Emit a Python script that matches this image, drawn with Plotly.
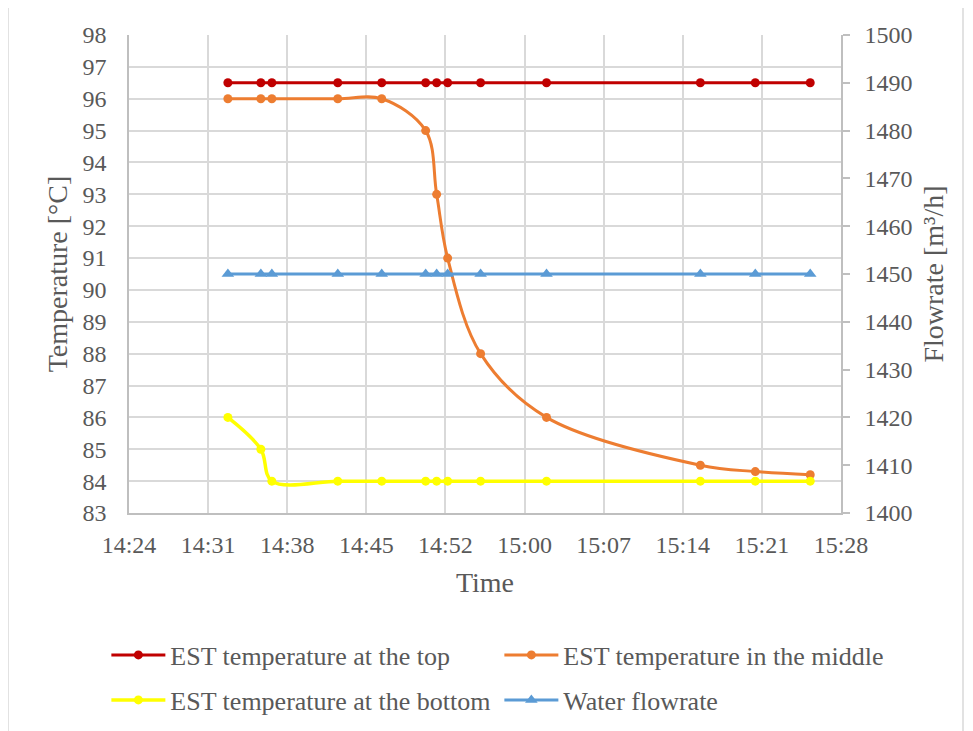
import plotly.graph_objects as go
from datetime import datetime, timedelta

DAY = "2023-01-01 "
times = ["14:33", "14:36", "14:37", "14:43", "14:47", "14:51", "14:52",
         "14:53", "14:56", "15:02", "15:16", "15:21", "15:26"]
temp_top = [96.5, 96.5, 96.5, 96.5, 96.5, 96.5, 96.5,
            96.5, 96.5, 96.5, 96.5, 96.5, 96.5]
temp_middle = [96, 96, 96, 96, 96, 95, 93, 91, 88, 86, 84.5, 84.3, 84.2]
temp_bottom = [86, 85, 84, 84, 84, 84, 84, 84, 84, 84, 84, 84, 84]
water_flow = [1450, 1450, 1450, 1450, 1450, 1450, 1450,
              1450, 1450, 1450, 1450, 1450, 1450]
x_tick_labels = ["14:24", "14:31", "14:38", "14:45", "14:52",
                 "15:00", "15:07", "15:14", "15:21", "15:28"]

x = [DAY + t for t in times]
start = datetime(2023, 1, 1, 14, 24, 0)
tick_vals = [(start + timedelta(seconds=432 * k)).strftime("%Y-%m-%d %H:%M:%S")
             for k in range(len(x_tick_labels))]
x_range = [tick_vals[0], (start + timedelta(seconds=432 * 9)).strftime("%Y-%m-%d %H:%M:%S")]

FONT = "Liberation Serif"
TXT = "#595959"
GRID = "#d9d9d9"
AXL = "#bfbfbf"

# page body has an 8px default margin: figure is 8px smaller and offset
W, H = 965, 723
L, T = 121, 27
PW, PH = 712, 478
R = W - L - PW
B = H - T - PH

fig = go.Figure()
fig.add_trace(go.Scatter(x=x, y=temp_top, name="EST temperature at the top",
                         mode="lines+markers", line=dict(color="#C00000", width=3, shape="spline"),
                         marker=dict(size=9, symbol="circle"), legend="legend"))
fig.add_trace(go.Scatter(x=x, y=temp_middle, name="EST temperature in the middle",
                         mode="lines+markers", line=dict(color="#ED7D31", width=3, shape="spline", smoothing=1),
                         marker=dict(size=9, symbol="circle"), legend="legend"))
fig.add_trace(go.Scatter(x=x, y=temp_bottom, name="EST temperature at the bottom",
                         mode="lines+markers", line=dict(color="#FFFF00", width=3.5, shape="spline", smoothing=1),
                         marker=dict(size=9, symbol="circle"), legend="legend2"))
fig.add_trace(go.Scatter(x=x, y=water_flow, name="Water flowrate", yaxis="y2",
                         mode="lines+markers", line=dict(color="#5B9BD5", width=3),
                         marker=dict(size=11, symbol="triangle-up"), legend="legend2"))

leg_common = dict(orientation="h", xanchor="left", yanchor="middle", x=-0.036,
                  borderwidth=3, bordercolor="rgba(0,0,0,0)", itemwidth=54,
                  entrywidth=324, entrywidthmode="pixels",
                  font=dict(family=FONT, size=26, color=TXT), bgcolor="rgba(0,0,0,0)")

fig.update_layout(
    width=W, height=H, autosize=False,
    margin=dict(l=L, r=R, t=T, b=B, autoexpand=False),
    paper_bgcolor="white", plot_bgcolor="white",
    font=dict(family=FONT, color=TXT),
    xaxis=dict(type="date", range=x_range, tickvals=tick_vals, ticktext=x_tick_labels,
               showgrid=True, gridcolor=GRID, gridwidth=1.5, showline=True, linecolor=AXL, linewidth=1.5,
               zeroline=False, ticks="", tickfont=dict(family=FONT, size=24, color=TXT),
               ticklabelstandoff=9, automargin=False,
               title=dict(text="Time", font=dict(family=FONT, size=28, color=TXT), standoff=16)),
    yaxis=dict(range=[83, 98], dtick=1, tick0=83, showgrid=True, gridcolor=GRID, gridwidth=1.5,
               showline=True, linecolor=AXL, linewidth=1.5, zeroline=False, ticks="",
               tickfont=dict(family=FONT, size=24, color=TXT), ticklabelstandoff=16, automargin=False,
               title=dict(text="Temperature [°C]", font=dict(family=FONT, size=28, color=TXT), standoff=7)),
    yaxis2=dict(range=[1400, 1500], dtick=10, tick0=1400, overlaying="y", side="right",
                showgrid=False, showline=True, linecolor=AXL, linewidth=1.5, zeroline=False,
                ticks="outside", ticklen=7, tickcolor=AXL, tickwidth=1.5, automargin=False,
                tickfont=dict(family=FONT, size=24, color=TXT), ticklabelstandoff=10,
                title=dict(text="Flowrate [m³/h]", font=dict(family=FONT, size=28, color=TXT),
                           standoff=12)),
    legend=dict(y=(PH - 647 + T) / PH, **leg_common),
    legend2=dict(y=(PH - 692 + T) / PH, **leg_common),
    shapes=[dict(type="rect", xref="paper", yref="paper",
                 x0=(0 - L) / PW, x1=(955 - L) / PW,
                 y0=(PH + T - 730) / PH, y1=(PH + T + 2) / PH,
                 line=dict(color=GRID, width=1.5), layer="below")],
)

fig.write_html("out.html")
